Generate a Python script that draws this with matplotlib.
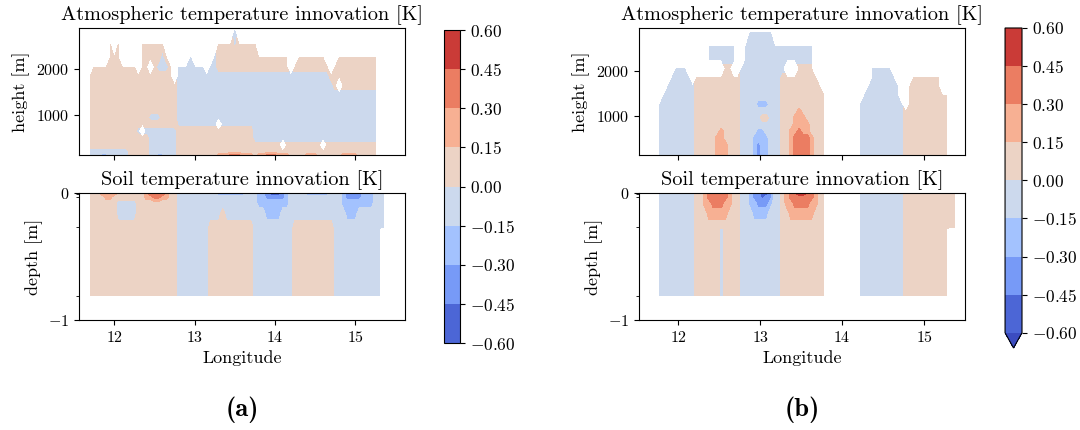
import numpy as np
import matplotlib.pyplot as plt
from matplotlib.ticker import FuncFormatter

# LaTeX-like look without a TeX install
plt.rcParams.update({
    'font.family': 'serif',
    'font.serif': ['cmr10'],
    'mathtext.fontset': 'cm',
    'axes.formatter.use_mathtext': True,
    'axes.unicode_minus': True,
})

# ===========================================================
# data
# ===========================================================
LEVELS = [-0.60, -0.45, -0.30, -0.15, 0.00, 0.15, 0.30, 0.45, 0.60]
XTICKS = [12, 13, 14, 15]
ATM_YTICKS = [1000, 2000]
SOIL_YTICKS = [-1, 0]
SOIL_LAYERS = [-0.01, -0.03, -0.27, -0.81]      # minor ticks on depth axis

# 80 model columns, 0.05 deg apart
LON_A = 11.55 + 0.05 * np.arange(80)
LON_B = 11.525 + 0.05 * np.arange(80)

# vertical levels, listed top -> bottom (same order as the rows below)
ATM_H = [2850, 2550, 2250, 2050, 1850, 1650, 1450, 1250, 1100, 950, 800, 650, 500, 340, 200, 110]
SOIL_D = [0.0, -0.01, -0.03, -0.08, -0.16, -0.27, -0.28, -0.5, -0.81]

# innovation values per code, read off the colour classes ('.' = no data)
CODE = {'.': np.nan, 'e': -0.52, 'd': -0.37, 'c': -0.22, 'b': -0.07, 'q': -0.03,
        'p': 0.03, 'r': 0.07, 's': 0.22, 't': 0.37, 'u': 0.52}

# rows written as runs "<count><code>", one row per level, 80 columns each
ATM_A = [
    "39. 1b 40.",
    "8. 1r 1. 1r 5. 6r 13. 4r 1q 5r 35.",
    "8. 3r 5. 5r 1b 1r 5. 1b 5. 1b 18r 2. 7r 3. 10r 5.",
    "4. 11r 1. 2r 1. 1r 3b 1r 1. 7b 1. 2b 18r 1. 9r 1. 11r 5.",
    "3. 21r 1. 38b 12r 5.",
    "3. 22r 39b 1r 1. 9r 5.",
    "3. 22r 50b 5.",
    "3. 22r 50b 5.",
    "3. 22r 50b 5.",
    "3. 15r 3b 4r 50b 5.",
    "3. 22r 10q 1. 8q 31b 5.",
    "3. 12r 1b 1. 8b 19r 31b 5.",
    "3. 15r 7b 19r 31b 5.",
    "3. 15r 7b 19r 7p 1. 9p 1. 13p 5.",
    "3. 10b 5r 7b 50r 5.",
    "3. 3b 2c 5b 5r 2b 2c 3b 10r 3s 3t 3s 1r 2s 3t 3s 4r 3s 6r 4s 5r 5.",
]
SOIL_A = [
    "3. 3r 4s 7r 1s 4t 1s 2r 1b 7c 2b 3c 2d 2c 3b 2c 1d 3e 1d 1c 4b 6c 3b 1c 4d 3c 3b 3.",
    "3. 3r 4s 7r 1s 4t 1s 2r 10b 7c 3b 2c 1d 3e 1d 1c 4b 6c 3b 1c 4d 3c 3b 3.",
    "3. 4r 2s 8r 2s 2t 2s 2r 20b 2c 5d 1c 13b 1c 4d 3c 3b 3.",
    "3. 7r 5b 10r 20b 8c 13b 8c 3b 3.",
    "3. 7r 5b 10r 11b 1r 10b 4c 16b 3c 7b 3.",
    "3. 22r 8b 11r 10b 10r 13b 3.",
    "3. 22r 8b 11r 10b 10r 12b 4.",
    "3. 22r 8b 11r 10b 10r 12b 4.",
    "3. 22r 8b 11r 10b 10r 12b 4.",
]
ATM_B = [
    "27. 6b 47.",
    "17. 7b 2. 17b 37.",
    "17. 7b 2. 17b 37.",
    "9. 3b 9. 2r 2. 11b 3. 4r 14. 5b 18.",
    "8. 5b 1. 11r 10b 9r 13. 6b 4. 7r 6.",
    "7. 7b 11r 10b 10r 11. 8b 2. 8r 6.",
    "6. 8b 11r 10b 11r 9. 9b 2. 10r 4.",
    "5. 9b 11r 4b 3c 3b 11r 8. 11b 1. 10r 4.",
    "5. 9b 11r 10b 4r 1s 6r 8. 11b 11r 4.",
    "5. 9b 11r 5b 2r 3b 3r 3s 5r 8. 11b 11r 4.",
    "5. 9b 11r 10b 3r 4s 4r 8. 11b 11r 4.",
    "5. 9b 6r 1s 4r 4b 2c 4b 2r 2s 1t 2s 4r 8. 11b 11r 4.",
    "5. 9b 5r 2s 4r 3b 4c 3b 2r 1s 4t 1s 3r 8. 11b 11r 4.",
    "5. 9b 5r 3s 3r 3b 1c 1d 2c 3b 2r 1s 4t 1s 3r 8. 11b 11r 4.",
    "5. 9b 5r 3s 3r 3b 1c 1d 2c 3b 2r 1s 4t 1s 3r 8. 11b 11r 4.",
    "5. 9b 5r 3s 3r 3b 1c 1d 2c 3b 2r 1s 4t 1s 3r 8. 11b 11r 4.",
]
SOIL_B = [
    "5. 9b 2r 1s 1t 2u 2t 1s 2r 2b 1c 2d 2e 1d 2b 1r 1s 1t 4u 1t 1s 2r 8. 11b 13r 2.",
    "5. 9b 2r 1s 5t 1s 2r 2b 1c 2d 2e 1d 2b 1r 1s 2t 2u 2t 1s 2r 8. 11b 13r 2.",
    "5. 9b 2r 1s 5t 1s 2r 2b 1c 2d 1e 2d 2b 1r 1s 6t 1s 2r 8. 11b 13r 2.",
    "5. 9b 2r 2s 3t 2s 2r 2b 2c 3d 1c 2b 1r 2s 4t 2s 2r 8. 11b 13r 2.",
    "5. 9b 3r 5s 3r 3b 4c 3b 2r 6s 3r 8. 11b 13r 2.",
    "5. 9b 11r 10b 11r 8. 11b 13r 2.",
    "5. 9b 6r 1b 4r 10b 11r 8. 11b 11r 4.",
    "5. 9b 6r 1b 4r 10b 11r 8. 11b 11r 4.",
    "5. 9b 6r 1b 4r 10b 11r 8. 11b 11r 4.",
]


def decode(rows, ncol=80):
    out = []
    for row in rows:
        vals = []
        for tok in row.split():
            vals += [CODE[tok[-1]]] * int(tok[:-1])
        vals = (vals + [np.nan] * ncol)[:ncol]
        out.append(vals)
    # flip so the vertical coordinate increases
    return np.ma.masked_invalid(np.array(out[::-1]))


# ===========================================================
# figure
# ===========================================================
fig = plt.figure(figsize=(10.8, 4.3), dpi=100)

TITLE_FS = 14.6
LABEL_FS = 13
TICK_FS = 11.5
CBAR_FS = 12.5


def draw_panel(lon, atm_rows, soil_rows, x0, cbox, xlim, atm_ylim, extend, tag):
    z_atm = decode(atm_rows)
    z_soil = decode(soil_rows)

    ax1 = fig.add_axes([x0, 0.6395, 0.3019, 0.2953])
    ax2 = fig.add_axes([x0, 0.2558, 0.3019, 0.2953])

    cf = ax1.contourf(lon, ATM_H[::-1], z_atm, levels=LEVELS, cmap='coolwarm', extend=extend)
    ax2.contourf(lon, SOIL_D[::-1], z_soil, levels=LEVELS, cmap='coolwarm', extend=extend)

    ax1.set_title('Atmospheric temperature innovation [K]', fontsize=TITLE_FS)
    ax1.set_ylabel('height [m]', fontsize=LABEL_FS)
    ax1.set_xlim(*xlim)
    ax1.set_ylim(*atm_ylim)
    ax1.set_xticks(XTICKS)
    ax1.set_yticks(ATM_YTICKS)
    ax1.tick_params(labelbottom=False, labelsize=TICK_FS)

    ax2.set_title('Soil temperature innovation [K]', fontsize=TITLE_FS)
    ax2.set_ylabel('depth [m]', fontsize=LABEL_FS)
    ax2.set_xlabel('Longitude', fontsize=LABEL_FS)
    ax2.set_xlim(*xlim)
    ax2.set_ylim(-1, 0)
    ax2.set_xticks(XTICKS)
    ax2.set_yticks(SOIL_YTICKS)
    ax2.set_yticks(SOIL_LAYERS, minor=True)
    ax2.tick_params(labelsize=TICK_FS)

    cax = fig.add_axes(cbox)
    cb = fig.colorbar(cf, cax=cax, ticks=LEVELS)
    cb.ax.yaxis.set_major_formatter(FuncFormatter(lambda v, _: r'$%.2f$' % v))
    cb.ax.tick_params(labelsize=CBAR_FS)

    fig.text(x0 + 0.3019 / 2, 0.0465, tag, fontfamily='cmb10', fontsize=19,
             ha='center', va='center')


draw_panel(LON_A, ATM_A, SOIL_A, 0.0731, [0.4111, 0.2023, 0.0148, 0.7279],
           (11.56, 15.62), (120, 2905), 'neither', '(a)')
draw_panel(LON_B, ATM_B, SOIL_B, 0.5917, [0.9306, 0.1907, 0.0157, 0.7442],
           (11.52, 15.50), (115, 2960), 'min', '(b)')

fig.savefig('out.png', dpi=100)
plt.close(fig)
